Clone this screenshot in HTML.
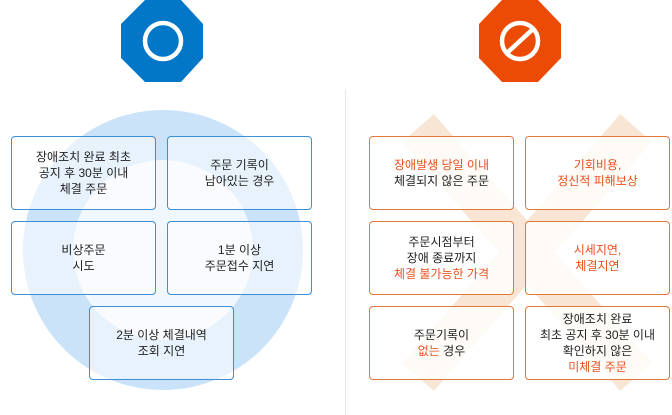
<!DOCTYPE html>
<html><head><meta charset="utf-8"><style>
body{margin:0;width:672px;height:415px;background:#fff;position:relative;overflow:hidden;font-family:"Liberation Sans","Noto Sans CJK KR",sans-serif;}
.b{position:absolute;width:143px;height:72px;border:1px solid #3a8fd6;border-radius:4px;display:flex;align-items:center;justify-content:center;text-align:center;font-size:12px;line-height:16px;color:#222;background:rgba(255,255,255,0.55);box-sizing:border-box;width:145px;height:74px}
.o{border-color:#e0783a;background:rgba(255,255,255,0.8)}
.r{color:#e8501e}
svg{position:absolute;left:0;top:0}
</style></head><body>
<svg width="672" height="415">
<circle cx="163" cy="250" r="115" fill="#f1f7fe" stroke="#cbe3f9" stroke-width="50"/>
<line x1="345.5" y1="89" x2="345.5" y2="415" stroke="#e6e6e6" stroke-width="1"/>
<g stroke="#f8e5d3" stroke-width="42">
<line x1="418" y1="128" x2="636" y2="377"/>
<line x1="636" y1="128" x2="418" y2="377"/>
</g>
<polygon points="145,0 181,0 203,24 203,58 181,82 145,82 121,58 121,24" fill="#0277c7"/>
<circle cx="163" cy="41" r="18" fill="none" stroke="#fff" stroke-width="4.5"/>
<polygon points="502,0 538,0 561,24 561,58 538,82 502,82 479,58 479,24" fill="#ec4b05"/>
<circle cx="520" cy="41" r="18" fill="none" stroke="#fff" stroke-width="4.5"/>
<line x1="507" y1="53" x2="533" y2="29" stroke="#fff" stroke-width="4.5"/>
</svg>
<div class="b" style="left:11px;top:136px">장애조치 완료 최초<br>공지 후 30분 이내<br>체결 주문</div>
<div class="b" style="left:167px;top:136px">주문 기록이<br>남아있는 경우</div>
<div class="b" style="left:11px;top:221px">비상주문<br>시도</div>
<div class="b" style="left:167px;top:221px">1분 이상<br>주문접수 지연</div>
<div class="b" style="left:89px;top:306px">2분 이상 체결내역<br>조회 지연</div>
<div class="b o" style="left:369px;top:136px"><div><span class="r">장애발생 당일 이내</span><br>체결되지 않은 주문</div></div>
<div class="b o r" style="left:525px;top:136px">기회비용,<br>정신적 피해보상</div>
<div class="b o" style="left:369px;top:221px"><div>주문시점부터<br>장애 종료까지<br><span class="r">체결 불가능한 가격</span></div></div>
<div class="b o r" style="left:525px;top:221px">시세지연,<br>체결지연</div>
<div class="b o" style="left:369px;top:306px"><div>주문기록이<br><span class="r">없는</span> 경우</div></div>
<div class="b o" style="left:525px;top:306px"><div>장애조치 완료<br>최초 공지 후 30분 이내<br>확인하지 않은<br><span class="r">미체결 주문</span></div></div>
</body></html>
